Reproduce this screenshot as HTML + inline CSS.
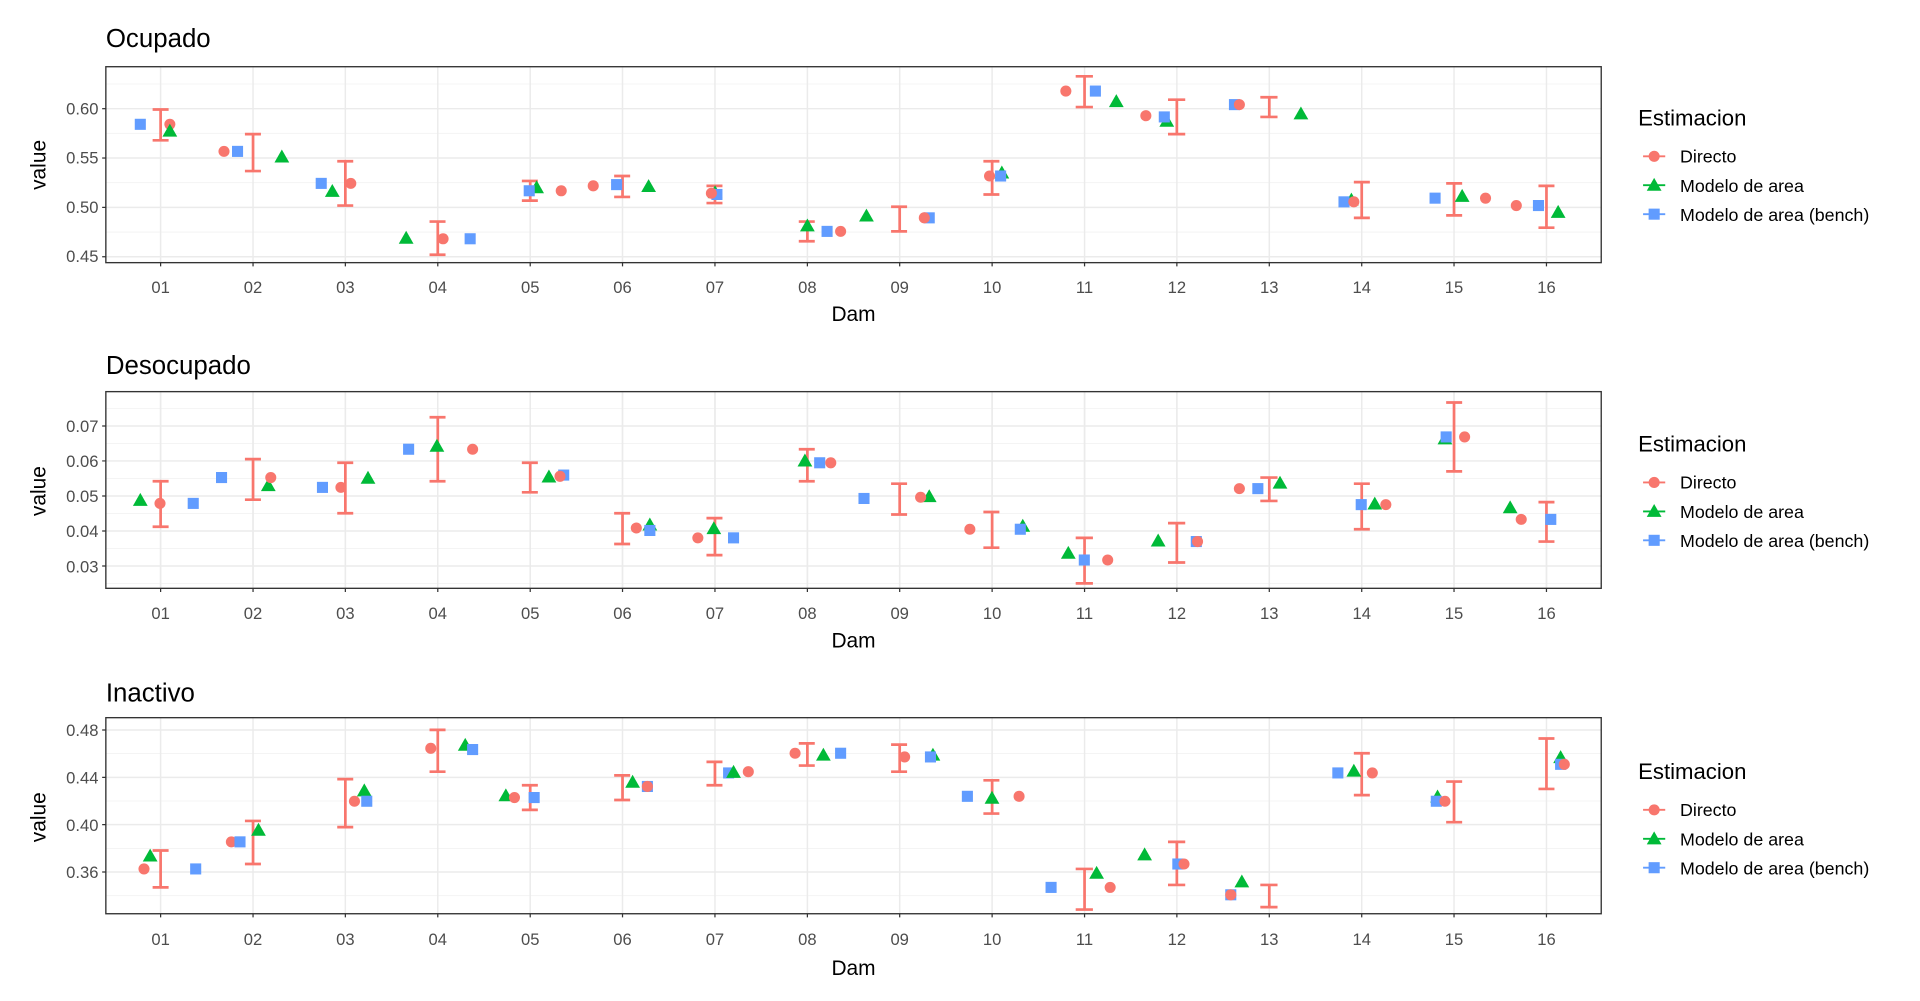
<!DOCTYPE html>
<html><head><meta charset="utf-8"><style>
html,body{margin:0;padding:0;background:#fff;}
svg{display:block;}
text{font-family:"Liberation Sans",sans-serif;}
.tk{font-size:13.5px;fill:#4d4d4d;}
.ax{font-size:17px;fill:#000;}
.tt{font-size:21px;fill:#000;}
.lg{font-size:14.5px;fill:#000;}
.lt{font-size:18px;fill:#000;}
.mj{stroke:#ebebeb;stroke-width:1.2;}
.mn{stroke:#f2f2f2;stroke-width:0.7;}
.eb{stroke:#F8766D;stroke-width:2.2;fill:none;}
.r{fill:#F8766D;}.g{fill:#00BA38;}.b{fill:#619CFF;}
</style></head><body>
<svg width="1920" height="1001" viewBox="0 0 1560 813.3" preserveAspectRatio="none" xmlns="http://www.w3.org/2000/svg">
<defs>
<path id="tri" d="M0,-6.5 L6,4 L-6,4 Z"/>
<g id="cap"><line x1="-6.5" x2="6.5" y1="0" y2="0"/></g>
</defs>

<!-- ============ PANEL 1 ============ -->
<text class="tt" x="86" y="38">Ocupado</text>
<g>
<rect x="86" y="54.2" width="1215" height="159.2" fill="#fff"/>
<g class="mn"><line x1="86" x2="1301" y1="68.25" y2="68.25"/><line x1="86" x2="1301" y1="108.35" y2="108.35"/><line x1="86" x2="1301" y1="148.45" y2="148.45"/><line x1="86" x2="1301" y1="188.55" y2="188.55"/></g>
<g class="mj"><line x1="86" x2="1301" y1="88.3" y2="88.3"/><line x1="86" x2="1301" y1="128.4" y2="128.4"/><line x1="86" x2="1301" y1="168.5" y2="168.5"/><line x1="86" x2="1301" y1="208.6" y2="208.6"/></g>
<g class="mj" id="vg1">
<line x1="130.5" x2="130.5" y1="54.2" y2="213.4"/><line x1="205.6" x2="205.6" y1="54.2" y2="213.4"/><line x1="280.6" x2="280.6" y1="54.2" y2="213.4"/><line x1="355.7" x2="355.7" y1="54.2" y2="213.4"/><line x1="430.8" x2="430.8" y1="54.2" y2="213.4"/><line x1="505.8" x2="505.8" y1="54.2" y2="213.4"/><line x1="580.9" x2="580.9" y1="54.2" y2="213.4"/><line x1="656" x2="656" y1="54.2" y2="213.4"/><line x1="731" x2="731" y1="54.2" y2="213.4"/><line x1="806.1" x2="806.1" y1="54.2" y2="213.4"/><line x1="881.2" x2="881.2" y1="54.2" y2="213.4"/><line x1="956.2" x2="956.2" y1="54.2" y2="213.4"/><line x1="1031.3" x2="1031.3" y1="54.2" y2="213.4"/><line x1="1106.4" x2="1106.4" y1="54.2" y2="213.4"/><line x1="1181.4" x2="1181.4" y1="54.2" y2="213.4"/><line x1="1256.5" x2="1256.5" y1="54.2" y2="213.4"/>
</g>
<!-- error bars -->
<g class="eb">
<path d="M130.5,89V114M124,89H137M124,114H137"/>
<path d="M205.6,109V139M199,109H212M199,139H212"/>
<path d="M280.6,131V167M274,131H287M274,167H287"/>
<path d="M355.7,180V207M349,180H362M349,207H362"/>
<path d="M430.8,147V163M424,147H437M424,163H437"/>
<path d="M505.8,143V160M499,143H512M499,160H512"/>
<path d="M580.9,151V165M574,151H587M574,165H587"/>
<path d="M656,180V196M649,180H662M649,196H662"/>
<path d="M731,168V188M724,168H737M724,188H737"/>
<path d="M806.1,131V158M799,131H812M799,158H812"/>
<path d="M881.2,62V87M874,62H888M874,87H888"/>
<path d="M956.2,81V109M949,81H963M949,109H963"/>
<path d="M1031.3,79V95M1024,79H1038M1024,95H1038"/>
<path d="M1106.4,148V177M1100,148H1113M1100,177H1113"/>
<path d="M1181.4,149V175M1175,149H1188M1175,175H1188"/>
<path d="M1256.5,151V185M1250,151H1263M1250,185H1263"/>
</g>
<g>
<rect class="b" x="109.5" y="96.5" width="9" height="9"/><circle class="r" cx="138" cy="101" r="4.5"/><use href="#tri" class="g" x="138" y="107"/>
<circle class="r" cx="182" cy="123" r="4.5"/><rect class="b" x="188.5" y="118.5" width="9" height="9"/><use href="#tri" class="g" x="229" y="128"/>
<rect class="b" x="256.5" y="144.5" width="9" height="9"/><use href="#tri" class="g" x="270" y="156"/><circle class="r" cx="285" cy="149" r="4.5"/>
<use href="#tri" class="g" x="330" y="194"/><circle class="r" cx="360" cy="194" r="4.5"/><rect class="b" x="377.5" y="189.5" width="9" height="9"/>
<use href="#tri" class="g" x="436" y="153"/><rect class="b" x="425.5" y="150.5" width="9" height="9"/><circle class="r" cx="456" cy="155" r="4.5"/>
<circle class="r" cx="482" cy="151" r="4.5"/><rect class="b" x="496.5" y="145.5" width="9" height="9"/><use href="#tri" class="g" x="527" y="152"/>
<use href="#tri" class="g" x="581" y="157"/><rect class="b" x="578" y="153.5" width="9" height="9"/><circle class="r" cx="578" cy="157" r="4.5"/>
<use href="#tri" class="g" x="656" y="184"/><rect class="b" x="667.5" y="183.5" width="9" height="9"/><circle class="r" cx="683" cy="188" r="4.5"/>
<use href="#tri" class="g" x="704" y="176"/><rect class="b" x="750.5" y="172.5" width="9" height="9"/><circle class="r" cx="751" cy="177" r="4.5"/>
<use href="#tri" class="g" x="814" y="141"/><circle class="r" cx="804" cy="143" r="4.5"/><rect class="b" x="808.5" y="138.5" width="9" height="9"/>
<circle class="r" cx="866" cy="74" r="4.5"/><rect class="b" x="885.5" y="69.5" width="9" height="9"/><use href="#tri" class="g" x="907" y="83"/>
<circle class="r" cx="931" cy="94" r="4.5"/><use href="#tri" class="g" x="948" y="99"/><rect class="b" x="941.5" y="90.5" width="9" height="9"/>
<rect class="b" x="998.5" y="80.5" width="9" height="9"/><circle class="r" cx="1007" cy="85" r="4.5"/><use href="#tri" class="g" x="1057" y="93"/>
<use href="#tri" class="g" x="1098" y="163"/><rect class="b" x="1087.5" y="159.5" width="9" height="9"/><circle class="r" cx="1100" cy="164" r="4.5"/>
<rect class="b" x="1161.5" y="156.5" width="9" height="9"/><use href="#tri" class="g" x="1188" y="160"/><circle class="r" cx="1207" cy="161" r="4.5"/>
<circle class="r" cx="1232" cy="167" r="4.5"/><rect class="b" x="1245.5" y="162.5" width="9" height="9"/><use href="#tri" class="g" x="1266" y="173"/>
</g>
<rect x="86" y="54.2" width="1215" height="159.2" fill="none" stroke="#333" stroke-width="1.1"/>
<g stroke="#333" stroke-width="1"><line x1="83" x2="86" y1="88.3" y2="88.3"/><line x1="83" x2="86" y1="128.4" y2="128.4"/><line x1="83" x2="86" y1="168.5" y2="168.5"/><line x1="83" x2="86" y1="208.6" y2="208.6"/></g>
<g class="tk" text-anchor="end"><text x="80" y="93">0.60</text><text x="80" y="133">0.55</text><text x="80" y="173">0.50</text><text x="80" y="213">0.45</text></g>
<g stroke="#333" stroke-width="1"><path d="M130.5,213.4v3M205.6,213.4v3M280.6,213.4v3M355.7,213.4v3M430.8,213.4v3M505.8,213.4v3M580.9,213.4v3M656,213.4v3M731,213.4v3M806.1,213.4v3M881.2,213.4v3M956.2,213.4v3M1031.3,213.4v3M1106.4,213.4v3M1181.4,213.4v3M1256.5,213.4v3"/></g>
<g class="tk" text-anchor="middle"><text x="130.5" y="238">01</text><text x="205.6" y="238">02</text><text x="280.6" y="238">03</text><text x="355.7" y="238">04</text><text x="430.8" y="238">05</text><text x="505.8" y="238">06</text><text x="580.9" y="238">07</text><text x="656" y="238">08</text><text x="731" y="238">09</text><text x="806.1" y="238">10</text><text x="881.2" y="238">11</text><text x="956.2" y="238">12</text><text x="1031.3" y="238">13</text><text x="1106.4" y="238">14</text><text x="1181.4" y="238">15</text><text x="1256.5" y="238">16</text></g>
<text class="ax" x="693.5" y="261" text-anchor="middle">Dam</text>
<text class="ax" transform="translate(37,134) rotate(-90)" text-anchor="middle">value</text>
<text class="lt" x="1331" y="102">Estimacion</text>
<g><line x1="1335" x2="1353" y1="127" y2="127" stroke="#F8766D" stroke-width="1.5"/><circle class="r" cx="1344" cy="127" r="4.5"/><text class="lg" x="1365" y="132">Directo</text>
<line x1="1335" x2="1353" y1="150.5" y2="150.5" stroke="#00BA38" stroke-width="1.5"/><use href="#tri" class="g" x="1344" y="151"/><text class="lg" x="1365" y="156">Modelo de area</text>
<line x1="1335" x2="1353" y1="174" y2="174" stroke="#619CFF" stroke-width="1.5"/><rect class="b" x="1339.5" y="169.5" width="9" height="9"/><text class="lg" x="1365" y="179.5">Modelo de area (bench)</text></g>
</g>

<!-- ============ PANEL 2 ============ -->
<text class="tt" x="86" y="304">Desocupado</text>
<g>
<g class="mn"><line x1="86" x2="1301" y1="474.1" y2="474.1"/><line x1="86" x2="1301" y1="445.7" y2="445.7"/><line x1="86" x2="1301" y1="417.2" y2="417.2"/><line x1="86" x2="1301" y1="388.8" y2="388.8"/><line x1="86" x2="1301" y1="360.3" y2="360.3"/><line x1="86" x2="1301" y1="331.9" y2="331.9"/></g>
<g class="mj"><line x1="86" x2="1301" y1="459.9" y2="459.9"/><line x1="86" x2="1301" y1="431.4" y2="431.4"/><line x1="86" x2="1301" y1="403" y2="403"/><line x1="86" x2="1301" y1="374.5" y2="374.5"/><line x1="86" x2="1301" y1="346.1" y2="346.1"/></g>
<use href="#vg1" transform="translate(0,264) scale(1,1)" />
</g>
<g class="mj">
<line x1="130.5" x2="130.5" y1="318.2" y2="478"/><line x1="205.6" x2="205.6" y1="318.2" y2="478"/><line x1="280.6" x2="280.6" y1="318.2" y2="478"/><line x1="355.7" x2="355.7" y1="318.2" y2="478"/><line x1="430.8" x2="430.8" y1="318.2" y2="478"/><line x1="505.8" x2="505.8" y1="318.2" y2="478"/><line x1="580.9" x2="580.9" y1="318.2" y2="478"/><line x1="656" x2="656" y1="318.2" y2="478"/><line x1="731" x2="731" y1="318.2" y2="478"/><line x1="806.1" x2="806.1" y1="318.2" y2="478"/><line x1="881.2" x2="881.2" y1="318.2" y2="478"/><line x1="956.2" x2="956.2" y1="318.2" y2="478"/><line x1="1031.3" x2="1031.3" y1="318.2" y2="478"/><line x1="1106.4" x2="1106.4" y1="318.2" y2="478"/><line x1="1181.4" x2="1181.4" y1="318.2" y2="478"/><line x1="1256.5" x2="1256.5" y1="318.2" y2="478"/>
</g>
<g class="eb">
<path d="M130.5,391V428M124,391H137M124,428H137"/>
<path d="M205.6,373V406M199,373H212M199,406H212"/>
<path d="M280.6,376V417M274,376H287M274,417H287"/>
<path d="M355.7,339V391M349,339H362M349,391H362"/>
<path d="M430.8,376V400M424,376H437M424,400H437"/>
<path d="M505.8,417V442M499,417H512M499,442H512"/>
<path d="M580.9,421V451M574,421H587M574,451H587"/>
<path d="M656,365V391M649,365H662M649,391H662"/>
<path d="M731,393V418M724,393H737M724,418H737"/>
<path d="M806.1,416V445M799,416H812M799,445H812"/>
<path d="M881.2,437V474M874,437H888M874,474H888"/>
<path d="M956.2,425V457M949,425H963M949,457H963"/>
<path d="M1031.3,388V407M1024,388H1038M1024,407H1038"/>
<path d="M1106.4,393V430M1100,393H1113M1100,430H1113"/>
<path d="M1181.4,327V383M1175,327H1188M1175,383H1188"/>
<path d="M1256.5,408V440M1250,408H1263M1250,440H1263"/>
</g>
<g>
<use href="#tri" class="g" x="114" y="407"/><circle class="r" cx="130" cy="409" r="4.5"/><rect class="b" x="152.5" y="404.5" width="9" height="9"/>
<rect class="b" x="175.5" y="383.5" width="9" height="9"/><use href="#tri" class="g" x="218" y="395"/><circle class="r" cx="220" cy="388" r="4.5"/>
<rect class="b" x="257.5" y="391.5" width="9" height="9"/><circle class="r" cx="277" cy="396" r="4.5"/><use href="#tri" class="g" x="299" y="389"/>
<rect class="b" x="327.5" y="360.5" width="9" height="9"/><use href="#tri" class="g" x="355" y="363"/><circle class="r" cx="384" cy="365" r="4.5"/>
<rect class="b" x="453.5" y="381.5" width="9" height="9"/><use href="#tri" class="g" x="446" y="388"/><circle class="r" cx="455" cy="387" r="4.5"/>
<circle class="r" cx="517" cy="429" r="4.5"/><use href="#tri" class="g" x="528" y="427"/><rect class="b" x="523.5" y="426.5" width="9" height="9"/>
<circle class="r" cx="567" cy="437" r="4.5"/><use href="#tri" class="g" x="580" y="430"/><rect class="b" x="591.5" y="432.5" width="9" height="9"/>
<use href="#tri" class="g" x="654" y="375"/><rect class="b" x="661.5" y="371.5" width="9" height="9"/><circle class="r" cx="675" cy="376" r="4.5"/>
<rect class="b" x="697.5" y="400.5" width="9" height="9"/><use href="#tri" class="g" x="755" y="404"/><circle class="r" cx="748" cy="404" r="4.5"/>
<circle class="r" cx="788" cy="430" r="4.5"/><use href="#tri" class="g" x="831" y="428"/><rect class="b" x="824.5" y="425.5" width="9" height="9"/>
<use href="#tri" class="g" x="868" y="450"/><rect class="b" x="876.5" y="450.5" width="9" height="9"/><circle class="r" cx="900" cy="455" r="4.5"/>
<use href="#tri" class="g" x="941" y="440"/><rect class="b" x="967.5" y="435.5" width="9" height="9"/><circle class="r" cx="973" cy="440" r="4.5"/>
<circle class="r" cx="1007" cy="397" r="4.5"/><rect class="b" x="1017.5" y="392.5" width="9" height="9"/><use href="#tri" class="g" x="1040" y="393"/>
<rect class="b" x="1101.5" y="405.5" width="9" height="9"/><use href="#tri" class="g" x="1117" y="410"/><circle class="r" cx="1126" cy="410" r="4.5"/>
<use href="#tri" class="g" x="1174" y="357"/><rect class="b" x="1170.5" y="350.5" width="9" height="9"/><circle class="r" cx="1190" cy="355" r="4.5"/>
<use href="#tri" class="g" x="1227" y="413"/><circle class="r" cx="1236" cy="422" r="4.5"/><rect class="b" x="1255.5" y="417.5" width="9" height="9"/>
</g>
<rect x="86" y="318.2" width="1215" height="159.8" fill="none" stroke="#333" stroke-width="1.1"/>
<g stroke="#333" stroke-width="1"><path d="M83,346.1h3M83,374.5h3M83,403h3M83,431.4h3M83,459.9h3"/>
<path d="M130.5,478v3M205.6,478v3M280.6,478v3M355.7,478v3M430.8,478v3M505.8,478v3M580.9,478v3M656,478v3M731,478v3M806.1,478v3M881.2,478v3M956.2,478v3M1031.3,478v3M1106.4,478v3M1181.4,478v3M1256.5,478v3"/></g>
<g class="tk" text-anchor="end"><text x="80" y="351">0.07</text><text x="80" y="379.5">0.06</text><text x="80" y="408">0.05</text><text x="80" y="436.5">0.04</text><text x="80" y="465">0.03</text></g>
<g class="tk" text-anchor="middle"><text x="130.5" y="503">01</text><text x="205.6" y="503">02</text><text x="280.6" y="503">03</text><text x="355.7" y="503">04</text><text x="430.8" y="503">05</text><text x="505.8" y="503">06</text><text x="580.9" y="503">07</text><text x="656" y="503">08</text><text x="731" y="503">09</text><text x="806.1" y="503">10</text><text x="881.2" y="503">11</text><text x="956.2" y="503">12</text><text x="1031.3" y="503">13</text><text x="1106.4" y="503">14</text><text x="1181.4" y="503">15</text><text x="1256.5" y="503">16</text></g>
<text class="ax" x="693.5" y="526" text-anchor="middle">Dam</text>
<text class="ax" transform="translate(37,399) rotate(-90)" text-anchor="middle">value</text>
<text class="lt" x="1331" y="367">Estimacion</text>
<g><line x1="1335" x2="1353" y1="392" y2="392" stroke="#F8766D" stroke-width="1.5"/><circle class="r" cx="1344" cy="392" r="4.5"/><text class="lg" x="1365" y="397">Directo</text>
<line x1="1335" x2="1353" y1="415.5" y2="415.5" stroke="#00BA38" stroke-width="1.5"/><use href="#tri" class="g" x="1344" y="416"/><text class="lg" x="1365" y="421">Modelo de area</text>
<line x1="1335" x2="1353" y1="439" y2="439" stroke="#619CFF" stroke-width="1.5"/><rect class="b" x="1339.5" y="434.5" width="9" height="9"/><text class="lg" x="1365" y="444.5">Modelo de area (bench)</text></g>

<!-- ============ PANEL 3 ============ -->
<text class="tt" x="86" y="570">Inactivo</text>
<g class="mn"><line x1="86" x2="1301" y1="727.7" y2="727.7"/><line x1="86" x2="1301" y1="689.3" y2="689.3"/><line x1="86" x2="1301" y1="650.8" y2="650.8"/><line x1="86" x2="1301" y1="612.3" y2="612.3"/></g>
<g class="mj"><line x1="86" x2="1301" y1="708.5" y2="708.5"/><line x1="86" x2="1301" y1="670" y2="670"/><line x1="86" x2="1301" y1="631.6" y2="631.6"/><line x1="86" x2="1301" y1="593.1" y2="593.1"/></g>
<g class="mj">
<line x1="130.5" x2="130.5" y1="583.1" y2="742.4"/><line x1="205.6" x2="205.6" y1="583.1" y2="742.4"/><line x1="280.6" x2="280.6" y1="583.1" y2="742.4"/><line x1="355.7" x2="355.7" y1="583.1" y2="742.4"/><line x1="430.8" x2="430.8" y1="583.1" y2="742.4"/><line x1="505.8" x2="505.8" y1="583.1" y2="742.4"/><line x1="580.9" x2="580.9" y1="583.1" y2="742.4"/><line x1="656" x2="656" y1="583.1" y2="742.4"/><line x1="731" x2="731" y1="583.1" y2="742.4"/><line x1="806.1" x2="806.1" y1="583.1" y2="742.4"/><line x1="881.2" x2="881.2" y1="583.1" y2="742.4"/><line x1="956.2" x2="956.2" y1="583.1" y2="742.4"/><line x1="1031.3" x2="1031.3" y1="583.1" y2="742.4"/><line x1="1106.4" x2="1106.4" y1="583.1" y2="742.4"/><line x1="1181.4" x2="1181.4" y1="583.1" y2="742.4"/><line x1="1256.5" x2="1256.5" y1="583.1" y2="742.4"/>
</g>
<g class="eb">
<path d="M130.5,691V721M124,691H137M124,721H137"/>
<path d="M205.6,667V702M199,667H212M199,702H212"/>
<path d="M280.6,633V672M274,633H287M274,672H287"/>
<path d="M355.7,593V627M349,593H362M349,627H362"/>
<path d="M430.8,638V658M424,638H437M424,658H437"/>
<path d="M505.8,630V650M499,630H512M499,650H512"/>
<path d="M580.9,619V638M574,619H587M574,638H587"/>
<path d="M656,604V622M649,604H662M649,622H662"/>
<path d="M731,605V627M724,605H737M724,627H737"/>
<path d="M806.1,634V661M799,634H812M799,661H812"/>
<path d="M881.2,706V739M874,706H888M874,739H888"/>
<path d="M956.2,684V719M949,684H963M949,719H963"/>
<path d="M1031.3,719V737M1024,719H1038M1024,737H1038"/>
<path d="M1106.4,612V646M1100,612H1113M1100,646H1113"/>
<path d="M1181.4,635V668M1175,635H1188M1175,668H1188"/>
<path d="M1256.5,600V641M1250,600H1263M1250,641H1263"/>
</g>
<g>
<circle class="r" cx="117" cy="706" r="4.5"/><use href="#tri" class="g" x="122" y="696"/><rect class="b" x="154.5" y="701.5" width="9" height="9"/>
<circle class="r" cx="188" cy="684" r="4.5"/><rect class="b" x="190.5" y="679.5" width="9" height="9"/><use href="#tri" class="g" x="210" y="675"/>
<circle class="r" cx="288" cy="651" r="4.5"/><use href="#tri" class="g" x="296" y="643"/><rect class="b" x="293.5" y="646.5" width="9" height="9"/>
<circle class="r" cx="350" cy="608" r="4.5"/><use href="#tri" class="g" x="378" y="606"/><rect class="b" x="379.5" y="604.5" width="9" height="9"/>
<use href="#tri" class="g" x="411" y="647"/><circle class="r" cx="418" cy="648" r="4.5"/><rect class="b" x="429.5" y="643.5" width="9" height="9"/>
<use href="#tri" class="g" x="514" y="636"/><rect class="b" x="521.5" y="634.5" width="9" height="9"/><circle class="r" cx="526" cy="639" r="4.5"/>
<rect class="b" x="587.5" y="623.5" width="9" height="9"/><use href="#tri" class="g" x="596" y="628"/><circle class="r" cx="608" cy="627" r="4.5"/>
<circle class="r" cx="646" cy="612" r="4.5"/><use href="#tri" class="g" x="669" y="614"/><rect class="b" x="678.5" y="607.5" width="9" height="9"/>
<circle class="r" cx="735" cy="615" r="4.5"/><use href="#tri" class="g" x="758" y="614"/><rect class="b" x="751.5" y="610.5" width="9" height="9"/>
<rect class="b" x="781.5" y="642.5" width="9" height="9"/><use href="#tri" class="g" x="806" y="649"/><circle class="r" cx="828" cy="647" r="4.5"/>
<rect class="b" x="849.5" y="716.5" width="9" height="9"/><use href="#tri" class="g" x="891" y="710"/><circle class="r" cx="902" cy="721" r="4.5"/>
<use href="#tri" class="g" x="930" y="695"/><rect class="b" x="952.5" y="697.5" width="9" height="9"/><circle class="r" cx="962" cy="702" r="4.5"/>
<rect class="b" x="995.5" y="722.5" width="9" height="9"/><circle class="r" cx="1000" cy="727" r="4.5"/><use href="#tri" class="g" x="1009" y="717"/>
<rect class="b" x="1082.5" y="623.5" width="9" height="9"/><use href="#tri" class="g" x="1100" y="627"/><circle class="r" cx="1115" cy="628" r="4.5"/>
<use href="#tri" class="g" x="1168" y="648"/><rect class="b" x="1162.5" y="646.5" width="9" height="9"/><circle class="r" cx="1174" cy="651" r="4.5"/>
<use href="#tri" class="g" x="1268" y="616"/><rect class="b" x="1263.5" y="616.5" width="9" height="9"/><circle class="r" cx="1271" cy="621" r="4.5"/>
</g>
<rect x="86" y="583.1" width="1215" height="159.3" fill="none" stroke="#333" stroke-width="1.1"/>
<g stroke="#333" stroke-width="1"><path d="M83,593.1h3M83,631.6h3M83,670h3M83,708.5h3"/>
<path d="M130.5,742.4v3M205.6,742.4v3M280.6,742.4v3M355.7,742.4v3M430.8,742.4v3M505.8,742.4v3M580.9,742.4v3M656,742.4v3M731,742.4v3M806.1,742.4v3M881.2,742.4v3M956.2,742.4v3M1031.3,742.4v3M1106.4,742.4v3M1181.4,742.4v3M1256.5,742.4v3"/></g>
<g class="tk" text-anchor="end"><text x="80" y="598">0.48</text><text x="80" y="636.5">0.44</text><text x="80" y="675">0.40</text><text x="80" y="713.5">0.36</text></g>
<g class="tk" text-anchor="middle"><text x="130.5" y="768">01</text><text x="205.6" y="768">02</text><text x="280.6" y="768">03</text><text x="355.7" y="768">04</text><text x="430.8" y="768">05</text><text x="505.8" y="768">06</text><text x="580.9" y="768">07</text><text x="656" y="768">08</text><text x="731" y="768">09</text><text x="806.1" y="768">10</text><text x="881.2" y="768">11</text><text x="956.2" y="768">12</text><text x="1031.3" y="768">13</text><text x="1106.4" y="768">14</text><text x="1181.4" y="768">15</text><text x="1256.5" y="768">16</text></g>
<text class="ax" x="693.5" y="792" text-anchor="middle">Dam</text>
<text class="ax" transform="translate(37,664) rotate(-90)" text-anchor="middle">value</text>
<text class="lt" x="1331" y="633">Estimacion</text>
<g><line x1="1335" x2="1353" y1="658" y2="658" stroke="#F8766D" stroke-width="1.5"/><circle class="r" cx="1344" cy="658" r="4.5"/><text class="lg" x="1365" y="663">Directo</text>
<line x1="1335" x2="1353" y1="681.5" y2="681.5" stroke="#00BA38" stroke-width="1.5"/><use href="#tri" class="g" x="1344" y="682"/><text class="lg" x="1365" y="687">Modelo de area</text>
<line x1="1335" x2="1353" y1="705" y2="705" stroke="#619CFF" stroke-width="1.5"/><rect class="b" x="1339.5" y="700.5" width="9" height="9"/><text class="lg" x="1365" y="710.5">Modelo de area (bench)</text></g>
</svg>
</body></html>
